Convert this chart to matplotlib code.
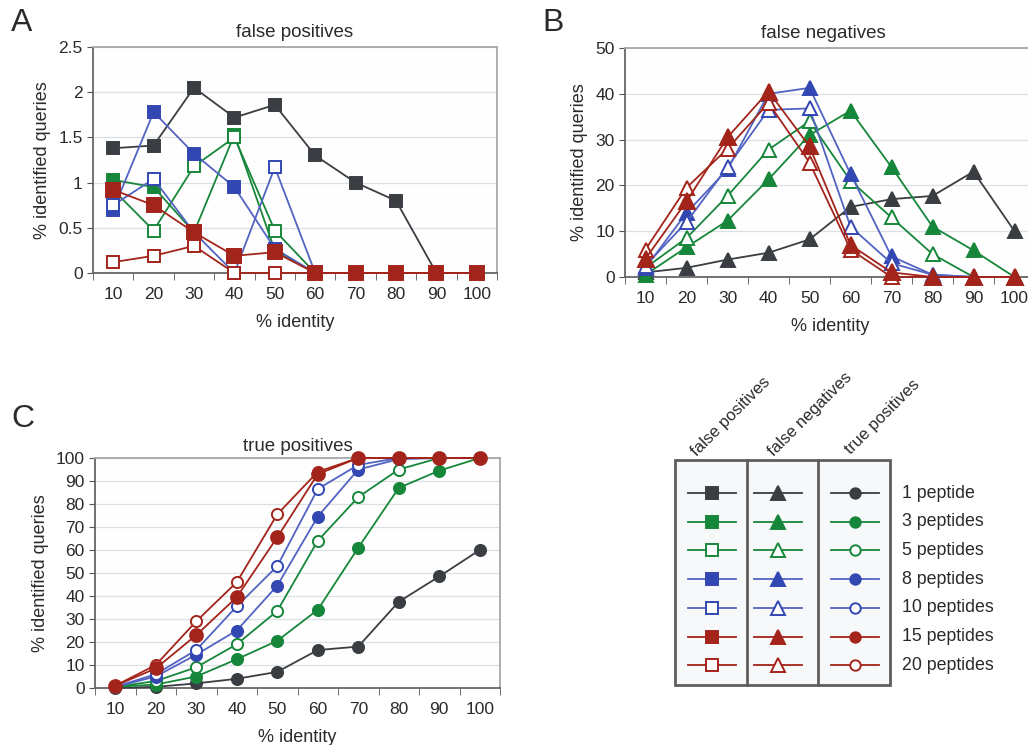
import matplotlib
matplotlib.use("Agg")
import matplotlib.pyplot as plt
import numpy as np
from matplotlib.ticker import FormatStrFormatter, MultipleLocator

plt.rcParams['font.family'] = ['Liberation Sans', 'DejaVu Sans']

#----------------- data
identity = [10, 20, 30, 40, 50, 60, 70, 80, 90, 100]
peptide_labels = ["1 peptide", "3 peptides", "5 peptides", "8 peptides",
                  "10 peptides", "15 peptides", "20 peptides"]

# false positives (% identified queries)
fp_1 = [1.38, 1.41, 2.05, 1.72, 1.86, 1.30, 1.00, 0.80, 0.0, 0.0]
fp_3 = [1.03, 0.95, 0.45, 1.53, 0.25, 0.0, 0.0, 0.0, 0.0, 0.0]
fp_5 = [0.92, 0.47, 1.18, 1.50, 0.47, 0.0, 0.0, 0.0, 0.0, 0.0]
fp_8 = [0.70, 1.78, 1.32, 0.95, 0.27, 0.0, 0.0, 0.0, 0.0, 0.0]
fp_10 = [0.75, 1.04, 0.45, 0.0, 1.17, 0.0, 0.0, 0.0, 0.0, 0.0]
fp_15 = [0.92, 0.75, 0.45, 0.19, 0.23, 0.0, 0.0, 0.0, 0.0, 0.0]
fp_20 = [0.12, 0.19, 0.30, 0.0, 0.0, 0.0, 0.0, 0.0, 0.0, 0.0]

# false negatives
fn_1 = [1.0, 2.0, 3.8, 5.3, 8.2, 15.3, 17.0, 17.7, 23.0, 10.0]
fn_3 = [0.5, 6.5, 12.3, 21.3, 31.0, 36.3, 24.0, 11.0, 5.8, 0.0]
fn_5 = [2.0, 8.5, 17.7, 27.8, 34.0, 21.0, 13.0, 5.0, 0.0, 0.0]
fn_8 = [2.0, 14.0, 23.5, 40.0, 41.3, 22.5, 4.5, 0.5, 0.0, 0.0]
fn_10 = [2.5, 12.0, 24.0, 36.5, 36.8, 11.0, 3.0, 0.5, 0.0, 0.0]
fn_15 = [4.0, 16.5, 30.5, 40.5, 28.5, 7.0, 1.0, 0.0, 0.0, 0.0]
fn_20 = [6.0, 19.5, 28.0, 38.0, 25.0, 6.0, 0.0, 0.0, 0.0, 0.0]

# true positives
tp_1 = [0.0, 0.5, 2.0, 4.0, 7.0, 16.5, 18.0, 37.5, 48.5, 60.0]
tp_3 = [0.5, 1.5, 5.0, 12.5, 20.5, 34.0, 61.0, 87.0, 94.5, 100.0]
tp_5 = [0.5, 3.0, 9.0, 19.0, 33.5, 64.0, 83.0, 95.0, 100.0, 100.0]
tp_8 = [0.5, 5.0, 14.5, 25.0, 44.5, 74.5, 95.0, 99.5, 100.0, 100.0]
tp_10 = [0.5, 6.0, 16.5, 35.5, 53.0, 86.5, 97.0, 100.0, 100.0, 100.0]
tp_15 = [1.0, 8.5, 23.0, 39.5, 65.5, 93.0, 100.0, 100.0, 100.0, 100.0]
tp_20 = [1.0, 10.0, 29.0, 46.0, 75.5, 94.0, 100.0, 100.0, 100.0, 100.0]

#----------------- styles
DARK = '#3a3d41'
GREEN = '#16873a'
BLUE = '#3347b3'
BLUE_LINE = '#5263c2'
RED = '#a3241a'
TEXT = '#2a2a2a'
# (color, line color, filled)
styles = [(DARK, DARK, True), (GREEN, GREEN, True), (GREEN, GREEN, False),
          (BLUE, BLUE_LINE, True), (BLUE, BLUE_LINE, False),
          (RED, RED, True), (RED, RED, False)]
draw_order = [0, 1, 2, 3, 4, 6, 5]
BG = '#fefefe'


def style_axes(ax, ymax, ystep, fmt):
    ax.set_facecolor(BG)
    ax.set_xlim(5, 105)
    ax.set_ylim(0, ymax)
    ax.set_xticks(identity)
    ax.set_xticks(np.arange(5, 106, 10), minor=True)
    ax.tick_params(axis='x', which='major', length=0, pad=10, labelsize=12.5, colors=TEXT)
    ax.tick_params(axis='x', which='minor', length=5, direction='out', color='#555555')
    ax.yaxis.set_major_locator(MultipleLocator(ystep))
    ax.yaxis.set_major_formatter(FormatStrFormatter(fmt))
    ax.tick_params(axis='y', length=4, direction='out', labelsize=12.5, color='#555555', colors=TEXT)
    ax.grid(axis='y', color='#dcdfe3', lw=0.9)
    ax.set_axisbelow(True)
    for side in ['top', 'right']:
        ax.spines[side].set_color('#a8a8a8')
        ax.spines[side].set_linewidth(1.3)
    for side in ['left', 'bottom']:
        ax.spines[side].set_color('#666666')
        ax.spines[side].set_linewidth(1.3)
    ax.set_xlabel("% identity", fontsize=13, labelpad=9, color=TEXT)
    ax.set_ylabel("% identified queries", fontsize=13, labelpad=5, color=TEXT)


def plot_series(ax, series, marker, msize):
    for i in draw_order:
        col, lcol, filled = styles[i]
        ms = msize * 1.15 if i == 5 else msize
        ax.plot(identity, series[i], color=lcol, lw=1.3, marker=marker, ms=ms,
                markerfacecolor=col if filled else 'white', markeredgecolor=col,
                markeredgewidth=1.4, zorder=3 + draw_order.index(i), clip_on=False)


fig = plt.figure(figsize=(10.28, 7.45), dpi=100)
W, H = 1028, 745


def px_axes(left, top, right, bottom):
    return fig.add_axes([left / W, 1 - bottom / H, (right - left) / W, (bottom - top) / H])


# panel A
axA = px_axes(93, 47, 497, 273)
style_axes(axA, 2.5, 0.5, '%g')
plot_series(axA, [fp_1, fp_3, fp_5, fp_8, fp_10, fp_15, fp_20], 's', 8.5)
axA.set_title("false positives", fontsize=13.5, pad=7, color=TEXT)
fig.text(11 / W, 1 - 23 / H, "A", fontsize=23, va='center', ha='left', color=TEXT)

# panel B
axB = px_axes(625, 48, 1035, 277)
style_axes(axB, 50, 10, '%g')
plot_series(axB, [fn_1, fn_3, fn_5, fn_8, fn_10, fn_15, fn_20], '^', 10.5)
axB.set_title("false negatives", fontsize=13.5, pad=7, x=(823 - 625) / 410, color=TEXT)
fig.text(542 / W, 1 - 23 / H, "B", fontsize=23, va='center', ha='left', color=TEXT)

# panel C
axC = px_axes(95, 458, 500, 688)
style_axes(axC, 100, 10, '%g')
plot_series(axC, [tp_1, tp_3, tp_5, tp_8, tp_10, tp_15, tp_20], 'o', 8)
axC.set_title("true positives", fontsize=13.5, pad=5, color=TEXT)
fig.text(11 / W, 1 - 419 / H, "C", fontsize=23, va='center', ha='left', color=TEXT)

#----------------- legend table (pixel layout)
axL = px_axes(660, 360, 1028, 700)
axL.set_xlim(660, 1028)
axL.set_ylim(700, 360)
axL.axis('off')
box_left, box_right, box_top, box_bottom = 675, 890, 460, 685
dividers = [747, 818]
axL.add_patch(plt.Rectangle((box_left, box_top), box_right - box_left, box_bottom - box_top,
                            facecolor='#f7f8f9', edgecolor='#5e5e5e', lw=2))
for xd in dividers:
    axL.plot([xd, xd], [box_top, box_bottom], color='#5e5e5e', lw=2)

col_centers = [712, 778, 855]
col_markers = [('s', 9), ('^', 9.5), ('o', 7.5)]
row_y0, row_dy = 493, 28.7
for r, (col, lcol, filled) in enumerate(styles):
    y = row_y0 + r * row_dy
    for cx, (mk, ms) in zip(col_centers, col_markers):
        axL.plot([cx - 24, cx + 24], [y, y], color=lcol, lw=1.3)
        axL.plot([cx], [y], marker=mk, ms=ms, color=col,
                 markerfacecolor=col if filled else 'white', markeredgewidth=1.4)
    axL.text(902, y, peptide_labels[r], fontsize=12.8, va='center', ha='left', color=TEXT)

headers = ["false positives", "false negatives", "true positives"]
header_pos = [(697, 457), (774, 457), (851, 455)]
for txt, (hx, hy) in zip(headers, header_pos):
    axL.text(hx, hy, txt, fontsize=12, rotation=45, rotation_mode='anchor',
             ha='left', va='baseline', color=TEXT)

fig.savefig("out.png", dpi=100)
